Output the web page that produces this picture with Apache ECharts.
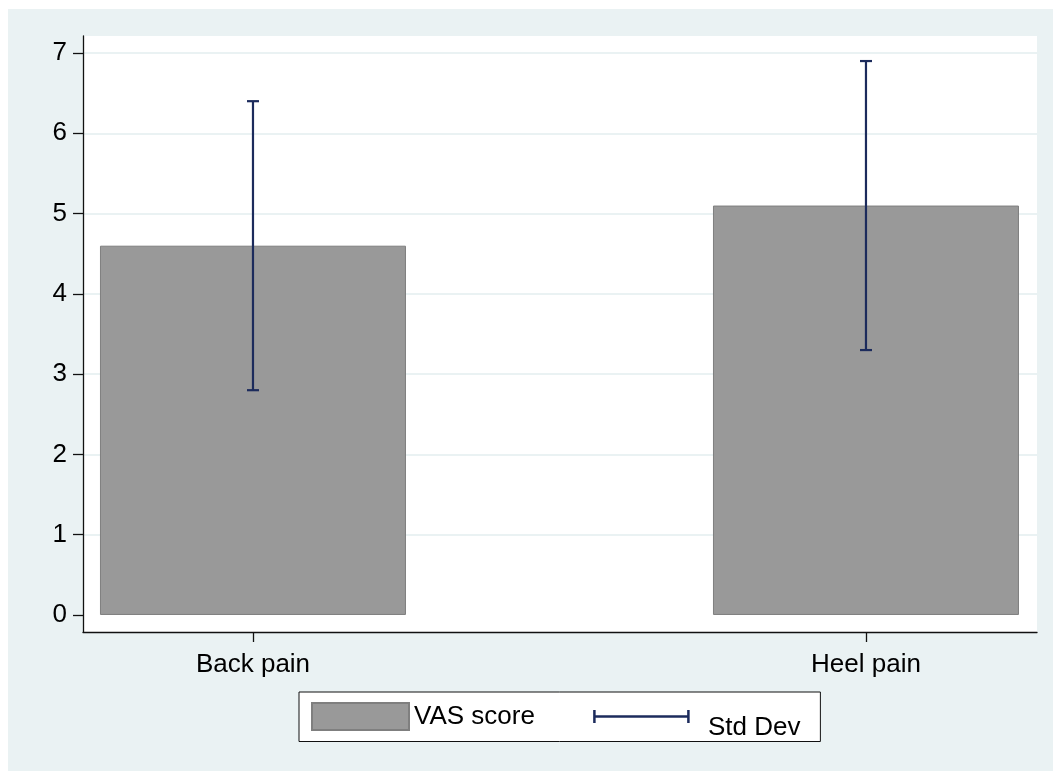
<!DOCTYPE html>
<html>
<head>
<meta charset="utf-8">
<style>
  html, body { margin: 0; padding: 0; background: #ffffff; }
  #chart { width: 1053px; height: 771px; }
</style>
<script src="https://cdn.jsdelivr.net/npm/echarts@6/dist/echarts.min.js"></script>
</head>
<body>
<div id="chart"></div>
<script>
// Mean VAS score per pain group with standard deviation
const categories = ['Back pain', 'Heel pain'];
const vasMean = [4.6, 5.1];
const vasSD = [1.8, 1.8];
const yTicks = [0, 1, 2, 3, 4, 5, 6, 7];

const FONT = '"Liberation Sans", Arial, Helvetica, sans-serif';
const BAR_FILL = '#999999';
const BAR_EDGE = '#7f7f7f';
const ERR_COLOR = '#1c2b5c';
const BG = '#eaf2f3';

// categories sit at x = 1, 2 on a numeric axis so the outer padding can be set freely
const xPositions = categories.map((c, i) => i + 1);
const barData = categories.map((c, i) => [xPositions[i], vasMean[i]]);
const errData = categories.map((c, i) => [xPositions[i], vasMean[i] - vasSD[i], vasMean[i] + vasSD[i]]);

// legend glyph for the error bar: a capped horizontal line
const errIconSvg =
  '<svg xmlns="http://www.w3.org/2000/svg" width="97" height="27" viewBox="0 0 97 27">' +
  '<g stroke="' + ERR_COLOR + '" stroke-width="2.5" fill="none">' +
  '<line x1="1.5" y1="13.5" x2="95.5" y2="13.5"/>' +
  '<line x1="1.5" y1="7" x2="1.5" y2="20"/>' +
  '<line x1="95.5" y1="7" x2="95.5" y2="20"/>' +
  '</g></svg>';
const errIcon = 'image://data:image/svg+xml;charset=utf-8,' + encodeURIComponent(errIconSvg);

const chart = echarts.init(document.getElementById('chart'), null, { renderer: 'canvas' });

chart.setOption({
  animation: false,
  textStyle: { fontFamily: FONT },
  graphic: [{
    type: 'rect',
    z: -10,
    shape: { x: 8, y: 9, width: 1045, height: 762 },
    style: { fill: BG },
    silent: true
  }],
  grid: {
    left: 83, right: 16, top: 36, bottom: 139,
    show: true,
    backgroundColor: '#ffffff',
    borderWidth: 0
  },
  xAxis: {
    type: 'value',
    min: 0.7227,
    max: 2.279,
    axisLine: { show: true, onZero: false, lineStyle: { color: '#111', width: 1.3 } },
    axisTick: {
      show: true, inside: false, length: 10,
      customValues: xPositions,
      lineStyle: { color: '#111', width: 1.3 }
    },
    axisLabel: {
      customValues: xPositions,
      formatter: v => categories[Math.round(v) - 1] || '',
      color: '#000',
      fontSize: 26,
      fontFamily: FONT,
      margin: 20
    },
    splitLine: { show: false }
  },
  yAxis: {
    type: 'value',
    min: -0.212,
    max: 7.212,
    axisLine: { show: true, onZero: false, lineStyle: { color: '#111', width: 1.3 } },
    axisTick: {
      show: true, length: 10,
      customValues: yTicks,
      lineStyle: { color: '#111', width: 1.3 }
    },
    axisLabel: {
      customValues: yTicks,
      color: '#000',
      fontSize: 26,
      fontFamily: FONT,
      margin: 16
    },
    splitLine: { show: false }
  },
  legend: {
    left: 299,
    top: 692,
    orient: 'horizontal',
    backgroundColor: '#ffffff',
    borderColor: '#111',
    borderWidth: 1,
    borderRadius: 0,
    padding: [10, 20, 1, 12],
    itemGap: 58,
    itemWidth: 97,
    itemHeight: 27,
    selectedMode: false,
    // the error-bar label sits a little lower than the bar label
    formatter: name => name === 'Std Dev' ? '{pad| }{low|' + name + '}' : name,
    textStyle: {
      fontSize: 26, color: '#000', fontFamily: FONT,
      rich: {
        pad: { width: 13, height: 48, fontSize: 26 },
        low: { verticalAlign: 'bottom', lineHeight: 30, fontSize: 26, color: '#000', fontFamily: FONT }
      }
    },
    data: [
      { name: 'VAS score', icon: 'rect' },
      { name: 'Std Dev', icon: errIcon }
    ]
  },
  series: [
    {
      // horizontal reference lines at each labelled value, kept beneath the bars
      name: 'grid',
      type: 'line',
      data: [],
      z: 0,
      silent: true,
      markLine: {
        silent: true,
        z: 0,
        symbol: 'none',
        label: { show: false },
        lineStyle: { color: BG, width: 2, type: 'solid' },
        data: yTicks.filter(v => v > 0).map(v => ({ yAxis: v }))
      }
    },
    {
      name: 'VAS score',
      type: 'bar',
      z: 2,
      barWidth: 306,
      data: barData,
      itemStyle: { color: BAR_FILL, borderColor: BAR_EDGE, borderWidth: 1 }
    },
    {
      name: 'Std Dev',
      type: 'custom',
      z: 3,
      data: errData,
      encode: { x: 0, y: [1, 2] },
      itemStyle: { color: ERR_COLOR },
      renderItem: function (params, api) {
        const x = api.value(0);
        const lo = api.coord([x, api.value(1)]);
        const hi = api.coord([x, api.value(2)]);
        const half = 6;
        const style = { stroke: ERR_COLOR, lineWidth: 2.2 };
        return {
          type: 'group',
          children: [
            { type: 'line', shape: { x1: lo[0], y1: lo[1], x2: hi[0], y2: hi[1] }, style: style },
            { type: 'line', shape: { x1: hi[0] - half, y1: hi[1], x2: hi[0] + half, y2: hi[1] }, style: style },
            { type: 'line', shape: { x1: lo[0] - half, y1: lo[1], x2: lo[0] + half, y2: lo[1] }, style: style }
          ]
        };
      }
    }
  ]
});
</script>
</body>
</html>
